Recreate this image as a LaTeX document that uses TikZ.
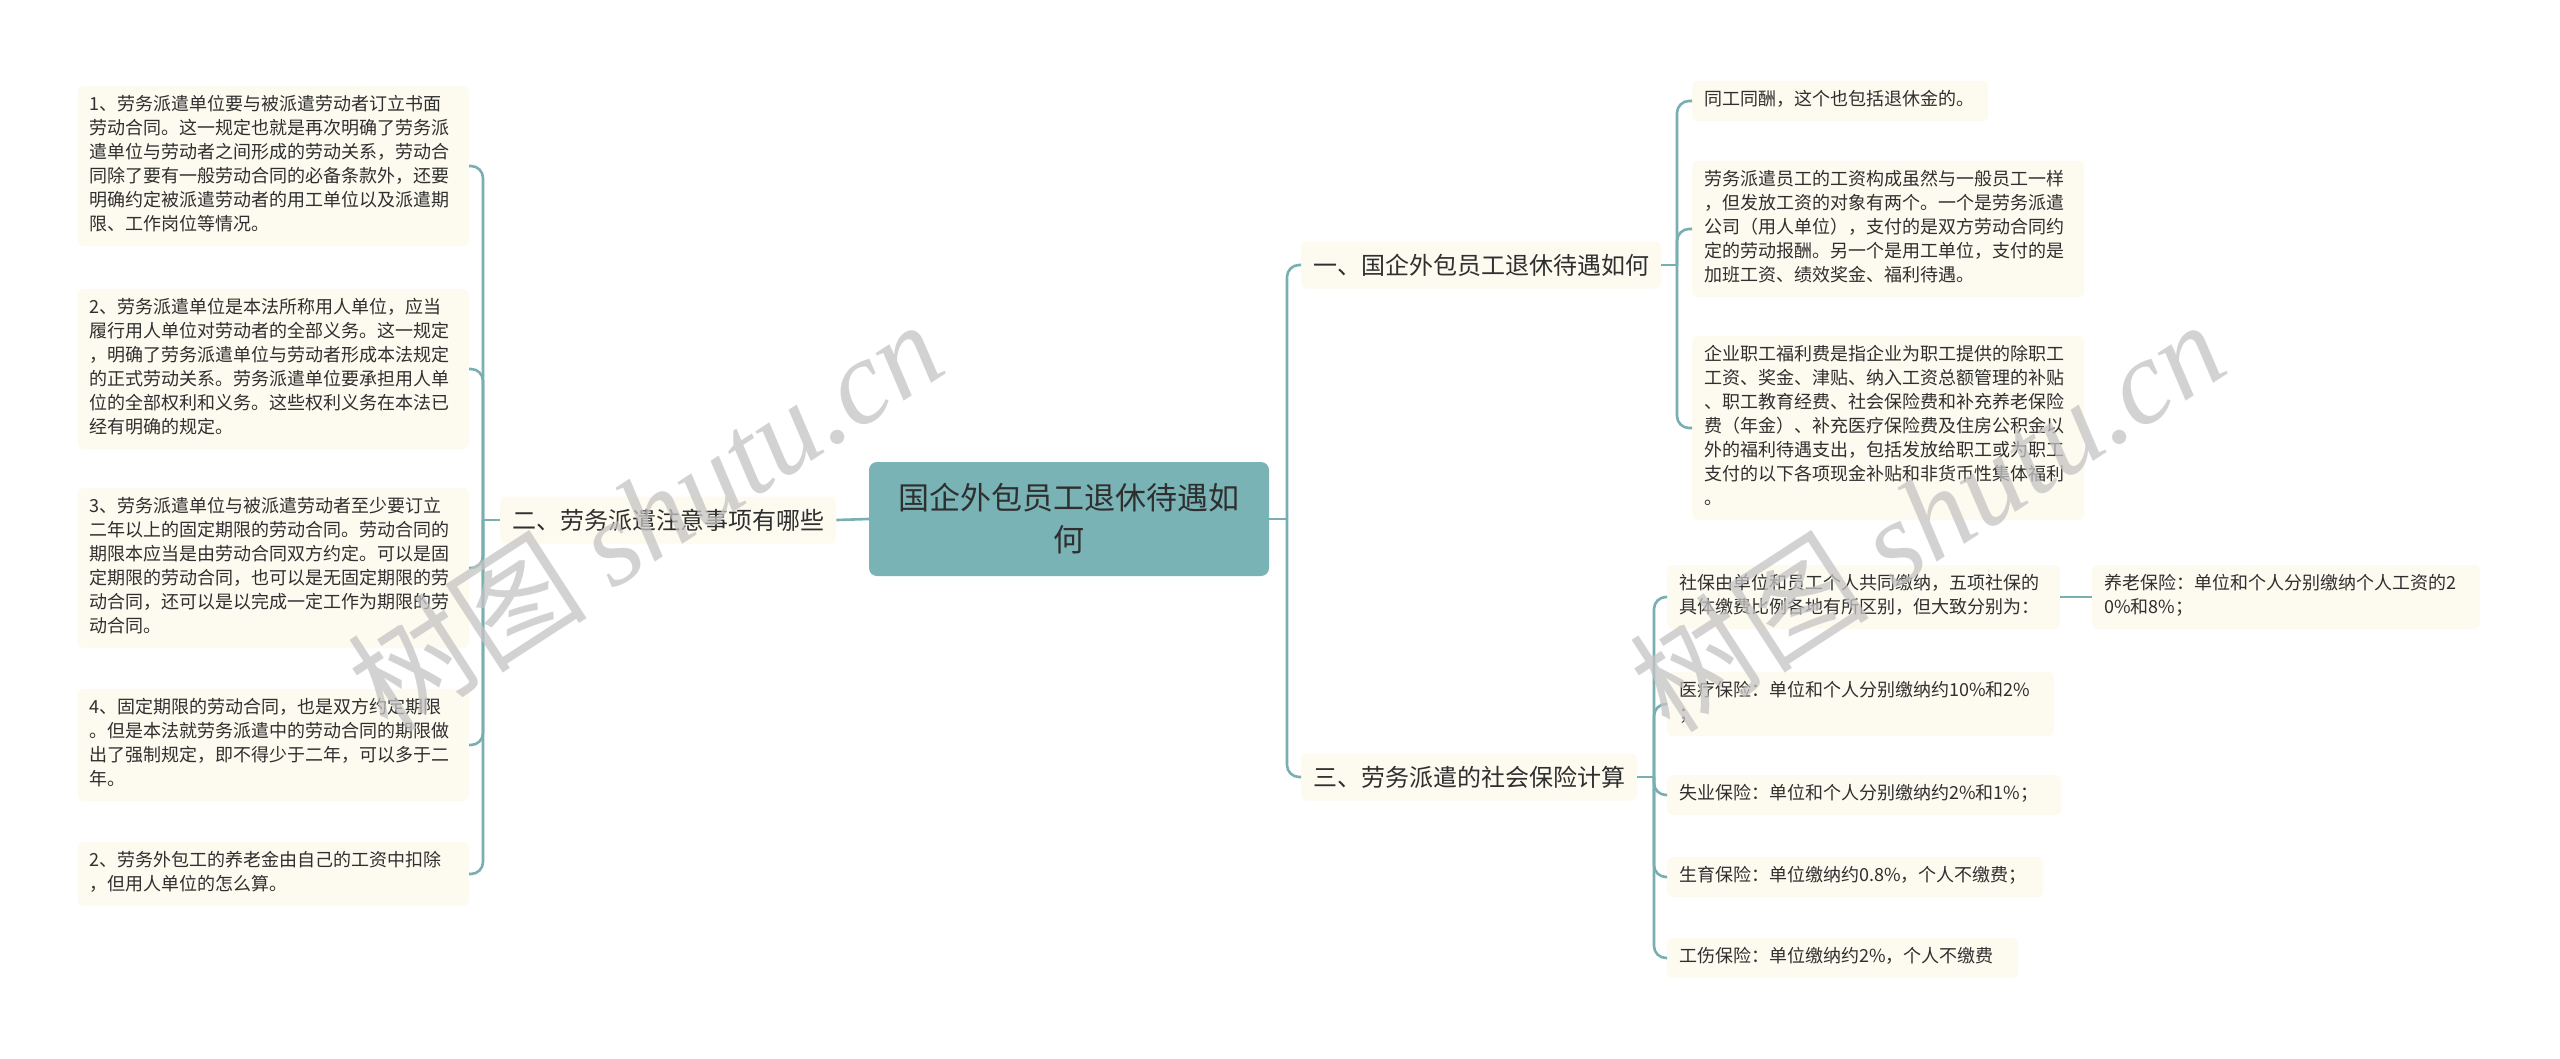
\documentclass[tikz,border=0pt]{standalone}
\usepackage{fontspec}
\setmainfont{Noto Sans CJK SC}
\newfontfamily\wmserif{Liberation Serif}
\definecolor{lineC}{HTML}{7AAFB2}
\definecolor{centC}{HTML}{7AB3B5}
\definecolor{leafC}{HTML}{FDFAEF}
\definecolor{txtC}{HTML}{2F2F2F}
\definecolor{wmC}{HTML}{C4C4C4}
\tikzset{
  conn/.style={draw=lineC, line width=2.6pt},
  leaf/.style={fill=leafC, rounded corners=6pt, text=txtC,
    font=\fontsize{18}{24}\selectfont, align=left, text width=#1,
    inner xsep=12pt, inner ysep=8pt,
    execute at begin node=\strut, execute at end node=\strut},
  topic/.style={fill=leafC, rounded corners=6pt, text=txtC,
    font=\fontsize{24}{30}\selectfont, inner xsep=12pt, minimum height=47pt},
  wm/.style={text=wmC, text opacity=0.75, inner sep=0pt, rotate=33,
    font=\fontsize{120}{120}\selectfont},
}
\begin{document}
\begin{tikzpicture}[x=1pt,y=-1pt]
\useasboundingbox (0,0) rectangle (2560,1058);
\fill[white] (0,0) rectangle (2560,1058);

% centre
\node[fill=centC, rounded corners=8pt, text=txtC, align=center,
  font=\fontsize{31}{42}\selectfont, minimum width=400pt, minimum height=114pt,
  inner sep=0pt] (C) at (1069,519) {国企外包员工退休待遇如\\何};

% left branch
\node[topic, anchor=west] (L) at (500,520) {二、劳务派遣注意事项有哪些};
\node[leaf=367pt, anchor=east] (L1) at (469,166) {1、劳务派遣单位要与被派遣劳动者订立书面\\劳动合同。这一规定也就是再次明确了劳务派\\遣单位与劳动者之间形成的劳动关系，劳动合\\同除了要有一般劳动合同的必备条款外，还要\\明确约定被派遣劳动者的用工单位以及派遣期\\限、工作岗位等情况。};
\node[leaf=367pt, anchor=east] (L2) at (469,369) {2、劳务派遣单位是本法所称用人单位，应当\\履行用人单位对劳动者的全部义务。这一规定\\，明确了劳务派遣单位与劳动者形成本法规定\\的正式劳动关系。劳务派遣单位要承担用人单\\位的全部权利和义务。这些权利义务在本法已\\经有明确的规定。};
\node[leaf=367pt, anchor=east] (L3) at (469,568) {3、劳务派遣单位与被派遣劳动者至少要订立\\二年以上的固定期限的劳动合同。劳动合同的\\期限本应当是由劳动合同双方约定。可以是固\\定期限的劳动合同，也可以是无固定期限的劳\\动合同，还可以是以完成一定工作为期限的劳\\动合同。};
\node[leaf=367pt, anchor=east] (L4) at (469,745) {4、固定期限的劳动合同，也是双方约定期限\\。但是本法就劳务派遣中的劳动合同的期限做\\出了强制规定，即不得少于二年，可以多于二\\年。};
\node[leaf=367pt, anchor=east] (L5) at (469,874) {2、劳务外包工的养老金由自己的工资中扣除\\，但用人单位的怎么算。};

% right branch 1
\node[topic, anchor=west] (R1) at (1301,265) {一、国企外包员工退休待遇如何};
\node[leaf=272pt, anchor=west] (A) at (1692,101) {同工同酬，这个也包括退休金的。};
\node[leaf=368pt, anchor=west] (B) at (1692,229) {劳务派遣员工的工资构成虽然与一般员工一样\\，但发放工资的对象有两个。一个是劳务派遣\\公司（用人单位），支付的是双方劳动合同约\\定的劳动报酬。另一个是用工单位，支付的是\\加班工资、绩效奖金、福利待遇。};
\node[leaf=368pt, anchor=west] (Cc) at (1692,428) {企业职工福利费是指企业为职工提供的除职工\\工资、奖金、津贴、纳入工资总额管理的补贴\\、职工教育经费、社会保险费和补充养老保险\\费（年金）、补充医疗保险费及住房公积金以\\外的福利待遇支出，包括发放给职工或为职工\\支付的以下各项现金补贴和非货币性集体福利\\。};

% right branch 3
\node[topic, anchor=west] (R3) at (1301,777) {三、劳务派遣的社会保险计算};
\node[leaf=369pt, anchor=west] (D) at (1667,597) {社保由单位和员工个人共同缴纳，五项社保的\\具体缴费比例各地有所区别，但大致分别为：};
\node[leaf=364pt, anchor=west] (E) at (2092,597) {养老保险：单位和个人分别缴纳个人工资的2\\0\%和8\%；};
\node[leaf=363pt, anchor=west] (F) at (1667,704) {医疗保险：单位和个人分别缴纳约10\%和2\%\\；};
\node[leaf=370pt, anchor=west] (G) at (1667,795) {失业保险：单位和个人分别缴纳约2\%和1\%；};
\node[leaf=352pt, anchor=west] (H) at (1667,877) {生育保险：单位缴纳约0.8\%，个人不缴费；};
\node[leaf=327pt, anchor=west] (I) at (1667,958) {工伤保险：单位缴纳约2\%，个人不缴费};

% connectors
\coordinate (bl) at (483,520);
\coordinate (br) at (1287,519);
\coordinate (b1) at (1677,265);
\coordinate (b3) at (1654,777);
\draw[conn] (C.west) -- (L.east);
\draw[conn] (L.west) -- (bl);
\foreach \n in {L1,L2,L3,L4,L5}
  \draw[conn, rounded corners=12pt] (bl) |- (\n.east);
\draw[conn] (C.east) -- (br);
\draw[conn, rounded corners=12pt] (br) |- (R1.west);
\draw[conn, rounded corners=12pt] (br) |- (R3.west);
\draw[conn] (R1.east) -- (b1);
\foreach \n in {A,B,Cc}
  \draw[conn, rounded corners=12pt] (b1) |- (\n.west);
\draw[conn] (R3.east) -- (b3);
\foreach \n in {D,F,G,H,I}
  \draw[conn, rounded corners=12pt] (b3) |- (\n.west);
\draw[conn] (D.east) -- (E.west);

% watermarks
\node[wm] (w1) at (645,515) {树图 {\wmserif\itshape shutu.cn}};
\node[wm] (w2) at (1927,515) {树图 {\wmserif\itshape shutu.cn}};
\end{tikzpicture}
\end{document}
